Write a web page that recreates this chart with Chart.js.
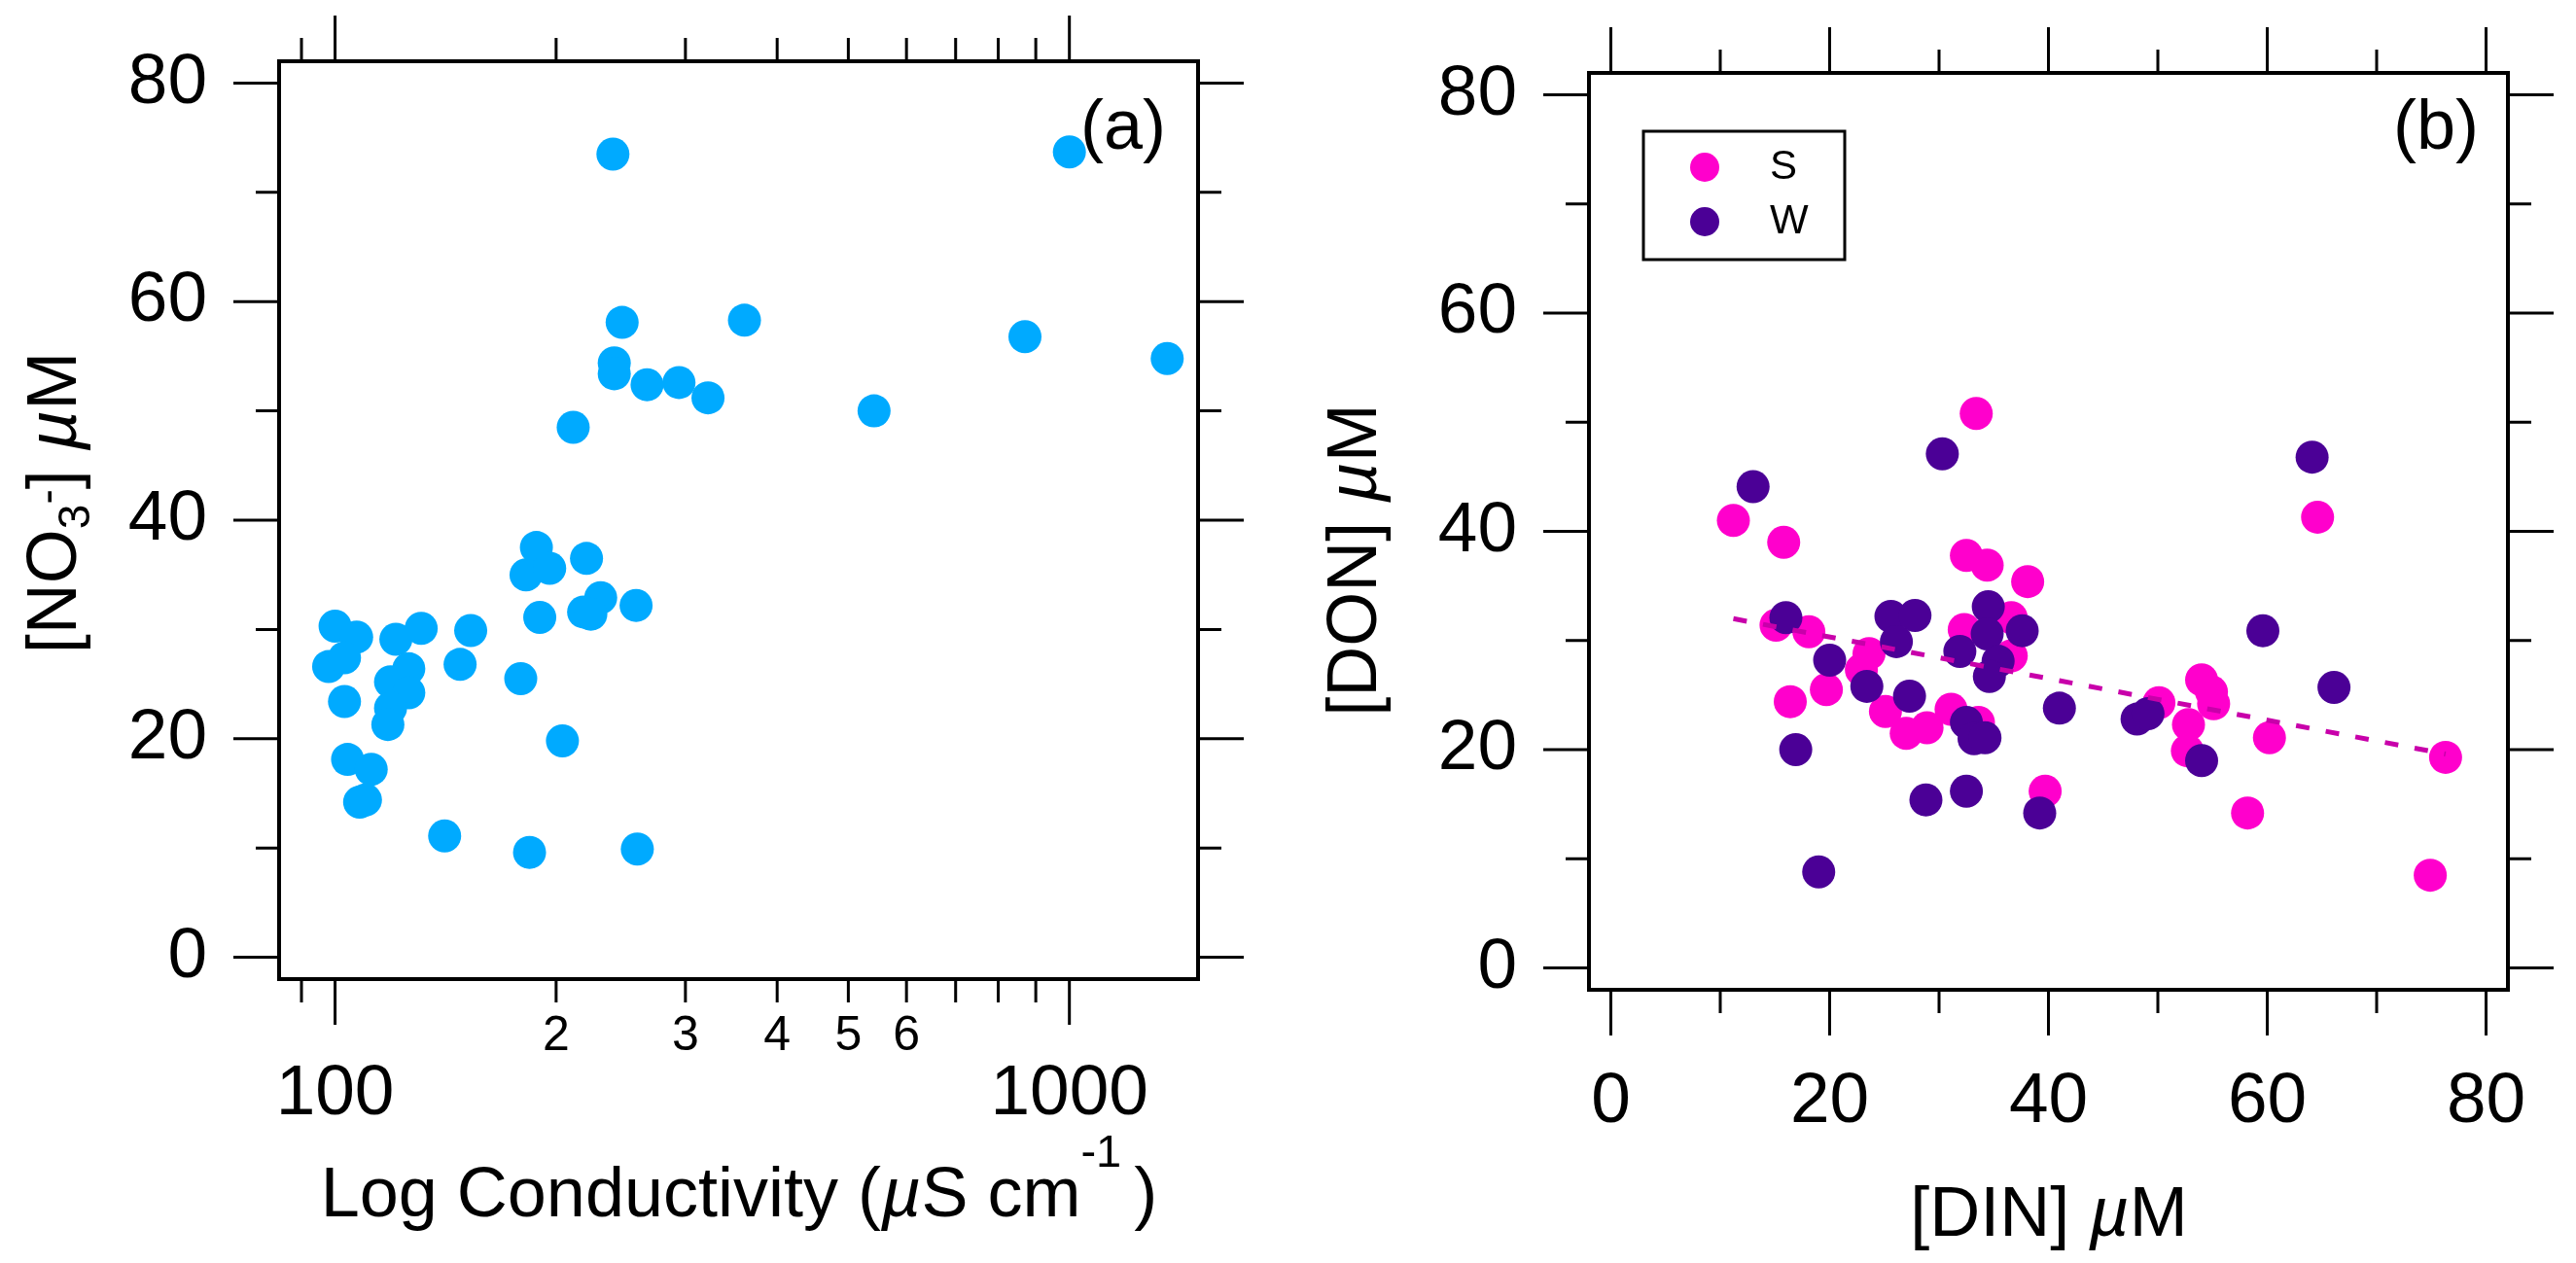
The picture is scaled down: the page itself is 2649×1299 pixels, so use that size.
<!DOCTYPE html>
<html>
<head>
<meta charset="utf-8">
<title>NO3 / DON scatter</title>
<script src="https://cdn.jsdelivr.net/npm/chart.js@4.4.1/dist/chart.umd.min.js"></script>
<style>
  html, body { margin: 0; padding: 0; background: #fff; }
  #wrapA { position: absolute; left: 0; top: 0; width: 1300px; height: 1299px; }
  #wrapB { position: absolute; left: 1300px; top: 0; width: 1349px; height: 1299px; }
</style>
</head>
<body>
<div id="wrapA"><canvas id="chartA"></canvas></div>
<div id="wrapB"><canvas id="chartB"></canvas></div>
<script>
// Panel (a): conductivity (uS/cm) vs nitrate (uM)
const condA = [239, 1000, 246, 361, 240, 240, 266, 294, 322, 211, 542, 870, 1359,
  188, 182, 196, 220, 230, 218, 223, 190, 257,
  100, 107, 98, 103, 121, 131, 153, 148, 179, 126, 119, 126, 119, 118, 103,
  104, 112, 108, 110, 204, 141, 184, 258];
const no3A = [73.5, 73.7, 58.1, 58.3, 54.4, 53.4, 52.4, 52.6, 51.2, 48.5, 50.0, 56.8, 54.8,
  37.5, 35.0, 35.6, 36.5, 32.9, 31.6, 31.4, 31.1, 32.2,
  30.3, 29.3, 26.6, 27.4, 29.1, 30.1, 29.9, 26.8, 25.5, 26.4, 25.2, 24.2, 22.8, 21.3, 23.4,
  18.1, 17.2, 14.2, 14.4, 19.8, 11.1, 9.6, 9.9];

// Panel (b): DIN vs DON, series S and W
const dinS = [11.2, 15.8, 15.1, 18.1, 23.6, 22.9, 16.4, 19.7, 25.1, 27.0, 28.9, 31.1, 33.4, 32.5, 34.4, 38.1,
  36.6, 32.3, 36.6, 33.6, 39.7, 50.1, 54.0, 54.9, 55.1, 52.8, 52.7, 60.2, 58.2, 64.6, 76.3, 74.9];
const donS = [41.0, 39.0, 31.4, 30.8, 28.8, 27.3, 24.4, 25.5, 23.5, 21.5, 22.0, 23.7, 50.8, 37.8, 36.9, 35.4,
  32.1, 31.0, 28.6, 22.5, 16.2, 24.3, 26.4, 25.3, 24.2, 22.3, 19.9, 21.1, 14.2, 41.3, 19.3, 8.5];
const dinW = [13.0, 16.0, 25.6, 27.8, 26.1, 20.0, 23.4, 27.3, 16.9, 28.8, 19.0, 30.3, 64.1, 34.5, 34.4,
  37.6, 59.6, 31.9, 35.4, 34.6, 66.1, 32.5, 33.2, 34.2, 41.0, 48.1, 49.1, 54.0, 39.2, 32.5];
const donW = [44.1, 32.1, 32.2, 32.3, 29.9, 28.2, 25.8, 24.9, 20.0, 15.4, 8.8, 47.1, 46.8, 33.1, 30.6,
  30.9, 30.9, 29.0, 28.1, 26.7, 25.7, 22.5, 21.0, 21.1, 23.8, 22.8, 23.3, 19.0, 14.2, 16.2];
const trendDin = [11.2, 76.3];
const trendDon = [32.0, 19.6];

// Ticks
const yMajor = [0, 20, 40, 60, 80];
const yMinor = [10, 30, 50, 70];
const logMajor = [100, 1000];
const logMajorLabels = ['100', '1000'];
const logMinor = [90, 200, 300, 400, 500, 600, 700, 800, 900];
const logDigitTicks = [200, 300, 400, 500, 600];
const logDigitLabels = ['2', '3', '4', '5', '6'];
const dinMajor = [0, 20, 40, 60, 80];
const dinMinor = [10, 30, 50, 70];

const FONT = "'Liberation Sans', Arial, Helvetica, sans-serif";
const BLUE = '#00aaff';
const MAGENTA = '#ff00cc';
const PURPLE = '#4b0096';
const TREND = '#c800aa';

function fontStr(size, italic) {
    return (italic ? 'italic ' : '') + size + 'px ' + FONT;
}

function toPoints(xs, ys) {
    return xs.map((x, i) => ({ x: x, y: ys[i] }));
}

// Dibuja texto con sub/superindices, centrado en (x, y) sobre la linea base
function drawRuns(ctx, runs, x, y, angle, baseSize) {
    ctx.save();
    ctx.translate(x, y);
    ctx.rotate(angle);
    ctx.textAlign = 'left';
    ctx.textBaseline = 'alphabetic';
    const widths = [];
    let total = 0;
    runs.forEach(r => {
        ctx.font = fontStr(r.s || baseSize, r.it);
        const w = ctx.measureText(r.t).width;
        widths.push(w);
        total += w;
    });
    let cx = -total / 2;
    runs.forEach((r, i) => {
        ctx.font = fontStr(r.s || baseSize, r.it);
        ctx.fillText(r.t, cx, r.dy || 0);
        cx += widths[i];
    });
    ctx.restore();
}

// Marco con ticks hacia afuera en los cuatro lados, titulos y etiqueta del panel
function makeFrame(cfg) {
    return {
        id: 'igorFrame',
        afterDraw(chart) {
            const ctx = chart.ctx;
            const a = chart.chartArea;
            const xs = chart.scales.x;
            const ys = chart.scales.y;
            ctx.save();
            ctx.strokeStyle = '#000';
            ctx.fillStyle = '#000';
            ctx.lineWidth = 3;
            ctx.beginPath();
            const xMarks = (vals, len) => vals.forEach(v => {
                const p = xs.getPixelForValue(v);
                ctx.moveTo(p, a.bottom); ctx.lineTo(p, a.bottom + len);
                ctx.moveTo(p, a.top); ctx.lineTo(p, a.top - len);
            });
            const yMarks = (vals, len) => vals.forEach(v => {
                const p = ys.getPixelForValue(v);
                ctx.moveTo(a.left, p); ctx.lineTo(a.left - len, p);
                ctx.moveTo(a.right, p); ctx.lineTo(a.right + len, p);
            });
            xMarks(cfg.xMajor, 47);
            xMarks(cfg.xMinor, 24);
            yMarks(cfg.yMajor, 47);
            yMarks(cfg.yMinor, 24);
            ctx.stroke();
            ctx.lineWidth = 4;
            ctx.strokeRect(a.left, a.top, a.right - a.left, a.bottom - a.top);

            drawRuns(ctx, cfg.xTitle.runs, cfg.xTitle.x, cfg.xTitle.y, 0, 72);
            drawRuns(ctx, cfg.yTitle.runs, cfg.yTitle.x, cfg.yTitle.y, -Math.PI / 2, 72);

            ctx.font = fontStr(72);
            ctx.textAlign = 'right';
            ctx.textBaseline = 'alphabetic';
            ctx.fillText(cfg.tag.text, cfg.tag.x, cfg.tag.y);

            if (cfg.legend) {
                const L = cfg.legend;
                ctx.lineWidth = 3;
                ctx.strokeRect(L.x, L.y, L.w, L.h);
                const items = chart.data.datasets
                    .filter(d => d.legendIndex !== undefined)
                    .sort((p, q) => p.legendIndex - q.legendIndex);
                items.forEach((d, i) => {
                    const cy = L.firstY + i * L.step;
                    ctx.beginPath();
                    ctx.fillStyle = d.backgroundColor;
                    ctx.arc(L.markX, cy, 15, 0, Math.PI * 2);
                    ctx.fill();
                    ctx.fillStyle = '#000';
                    ctx.font = fontStr(42);
                    ctx.textAlign = 'left';
                    ctx.textBaseline = 'middle';
                    ctx.fillText(d.label, L.textX, cy);
                });
            }
            ctx.restore();
        }
    };
}

function tickOpts(size, padding, labels) {
    return {
        autoSkip: false, maxRotation: 0, minRotation: 0,
        padding: padding, color: '#000',
        font: { family: FONT, size: size },
        callback: (v, i) => labels ? labels[i] : String(v)
    };
}

const noGrid = { display: false, drawTicks: false };

// Grafica (a)
new Chart(document.getElementById('chartA'), {
    type: 'scatter',
    data: {
        datasets: [{
            label: 'NO3',
            data: toPoints(condA, no3A),
            backgroundColor: BLUE,
            borderWidth: 0,
            pointRadius: 17,
            pointHoverRadius: 17
        }]
    },
    options: {
        responsive: true,
        maintainAspectRatio: false,
        devicePixelRatio: 1,
        animation: false,
        events: [],
        layout: { padding: { top: 63, right: 68, left: 0, bottom: 0 } },
        plugins: { legend: { display: false }, tooltip: { enabled: false } },
        scales: {
            x: {
                type: 'logarithmic', position: 'bottom', weight: 0,
                min: 83.9, max: 1497,
                grid: noGrid, border: { display: false },
                afterBuildTicks: s => { s.ticks = logDigitTicks.map(v => ({ value: v })); },
                afterFit: s => { s.height = 85; s.paddingLeft = 0; s.paddingRight = 0; },
                ticks: tickOpts(50, 29, logDigitLabels)
            },
            x2: {
                type: 'logarithmic', position: 'bottom', weight: 1,
                min: 83.9, max: 1497,
                grid: noGrid, border: { display: false },
                afterBuildTicks: s => { s.ticks = logMajor.map(v => ({ value: v })); },
                afterFit: s => { s.height = 207; s.paddingLeft = 0; s.paddingRight = 0; },
                ticks: tickOpts(73, -10, logMajorLabels)
            },
            y: {
                type: 'linear', position: 'left',
                min: -2, max: 82,
                grid: noGrid, border: { display: false },
                afterBuildTicks: s => { s.ticks = yMajor.map(v => ({ value: v })); },
                afterFit: s => { s.width = 287; s.paddingTop = 0; s.paddingBottom = 0; },
                ticks: tickOpts(73, 74)
            }
        }
    },
    plugins: [makeFrame({
        xMajor: logMajor, xMinor: logMinor, yMajor: yMajor, yMinor: yMinor,
        xTitle: { x: 760, y: 1251, runs: [
            { t: 'Log Conductivity (' }, { t: '\u00b5', it: true }, { t: 'S cm' },
            { t: '-1 ', s: 47, dy: -51 }, { t: ')' }] },
        yTitle: { x: 78, y: 517, runs: [
            { t: '[NO' }, { t: '3', s: 46, dy: 14 }, { t: '-', s: 46, dy: -14 },
            { t: '] ' }, { t: '\u00b5', it: true }, { t: 'M' }] },
        tag: { text: '(a)', x: 1199, y: 153 }
    })]
});

// Grafica (b)
new Chart(document.getElementById('chartB'), {
    type: 'scatter',
    data: {
        datasets: [{
            label: 'trend',
            data: toPoints(trendDin, trendDon),
            showLine: true,
            borderColor: TREND,
            borderWidth: 5,
            borderDash: [14, 17],
            pointRadius: 0,
            order: 0
        }, {
            label: 'W',
            legendIndex: 1,
            data: toPoints(dinW, donW),
            backgroundColor: PURPLE,
            borderWidth: 0,
            pointRadius: 17,
            pointHoverRadius: 17,
            order: 1
        }, {
            label: 'S',
            legendIndex: 0,
            data: toPoints(dinS, donS),
            backgroundColor: MAGENTA,
            borderWidth: 0,
            pointRadius: 17,
            pointHoverRadius: 17,
            order: 2
        }]
    },
    options: {
        responsive: true,
        maintainAspectRatio: false,
        devicePixelRatio: 1,
        animation: false,
        events: [],
        layout: { padding: { top: 75, right: 70, left: 0, bottom: 0 } },
        plugins: { legend: { display: false }, tooltip: { enabled: false } },
        scales: {
            x: {
                type: 'linear', position: 'bottom',
                min: -2, max: 82,
                grid: noGrid, border: { display: false },
                afterBuildTicks: s => { s.ticks = dinMajor.map(v => ({ value: v })); },
                afterFit: s => { s.height = 281; s.paddingLeft = 0; s.paddingRight = 0; },
                ticks: tickOpts(73, 72)
            },
            y: {
                type: 'linear', position: 'left',
                min: -2, max: 82,
                grid: noGrid, border: { display: false },
                afterBuildTicks: s => { s.ticks = yMajor.map(v => ({ value: v })); },
                afterFit: s => { s.width = 334; s.paddingTop = 0; s.paddingBottom = 0; },
                ticks: tickOpts(73, 74)
            }
        }
    },
    plugins: [makeFrame({
        xMajor: dinMajor, xMinor: dinMinor, yMajor: yMajor, yMinor: yMinor,
        xTitle: { x: 807, y: 1271, runs: [
            { t: '[DIN] ' }, { t: '\u00b5', it: true }, { t: 'M' }] },
        yTitle: { x: 115, y: 576, runs: [
            { t: '[DON] ' }, { t: '\u00b5', it: true }, { t: 'M' }] },
        tag: { text: '(b)', x: 1249, y: 153 },
        legend: { x: 390, y: 135, w: 207, h: 132, markX: 453, textX: 520, firstY: 172, step: 56 }
    })]
});
</script>
</body>
</html>
